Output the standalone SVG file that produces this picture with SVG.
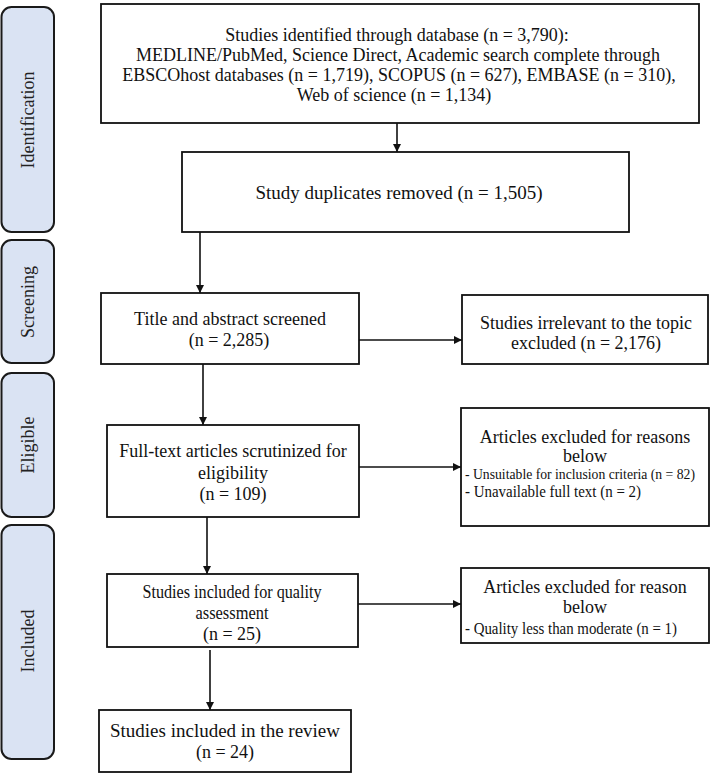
<svg xmlns="http://www.w3.org/2000/svg" width="711" height="773" viewBox="0 0 711 773">
<defs>
<style>
.bar{fill:#dae3f3;stroke:#1a1a1a;stroke-width:2}
.box{fill:#fff;stroke:#111;stroke-width:1.8}
.t{font-family:"Liberation Serif","Times New Roman",serif;font-size:18px;fill:#111;text-anchor:middle}
.s{font-family:"Liberation Serif","Times New Roman",serif;font-size:16px;fill:#111}
.lab{font-family:"Liberation Serif","Times New Roman",serif;font-size:18px;fill:#222;text-anchor:middle}
.c{fill:none;stroke:#111;stroke-width:1.6}
</style>
<marker id="ah" viewBox="0 0 10 10" refX="10" refY="5" markerWidth="8" markerHeight="8" markerUnits="userSpaceOnUse" orient="auto">
<path d="M0,0 L10,5 L0,10 Z" fill="#111"/>
</marker>
</defs>
<rect width="711" height="773" fill="#fff"/>

<g id="phase-identification">
<rect class="bar" x="1.5" y="7" width="52.5" height="225" rx="10"/>
<text class="lab" transform="translate(34,120) rotate(-90)">Identification</text>
</g>
<g id="phase-screening">
<rect class="bar" x="1.5" y="240" width="52.5" height="123" rx="10"/>
<text class="lab" transform="translate(34,302) rotate(-90)">Screening</text>
</g>
<g id="phase-eligible">
<rect class="bar" x="1.5" y="373" width="52.5" height="144" rx="10"/>
<text class="lab" transform="translate(34,445) rotate(-90)">Eligible</text>
</g>
<g id="phase-included">
<rect class="bar" x="1.5" y="525" width="52.5" height="234" rx="10"/>
<text class="lab" transform="translate(34,641) rotate(-90)">Included</text>
</g>

<g id="connectors">
<line class="c" x1="397" y1="123" x2="397" y2="152" marker-end="url(#ah)"/>
<line class="c" x1="200" y1="232" x2="200" y2="293" marker-end="url(#ah)"/>
<line class="c" x1="359" y1="340" x2="462" y2="340" marker-end="url(#ah)"/>
<line class="c" x1="203" y1="364" x2="203" y2="425" marker-end="url(#ah)"/>
<line class="c" x1="359" y1="467" x2="461" y2="467" marker-end="url(#ah)"/>
<line class="c" x1="207" y1="517" x2="207" y2="574" marker-end="url(#ah)"/>
<line class="c" x1="358" y1="604" x2="461" y2="604" marker-end="url(#ah)"/>
<line class="c" x1="210" y1="650" x2="210" y2="710" marker-end="url(#ah)"/>
</g>

<g id="identified">
<rect class="box" x="101" y="4" width="598" height="119"/>
<text class="t" x="397" y="41">Studies identified through database (n = 3,790):</text>
<text class="t" x="398" y="61">MEDLINE/PubMed, Science Direct, Academic search complete through</text>
<text class="t" x="399" y="81">EBSCOhost databases (n = 1,719), SCOPUS (n = 627), EMBASE (n = 310),</text>
<text class="t" x="394" y="101">Web of science (n = 1,134)</text>
</g>

<g id="duplicates">
<rect class="box" x="182" y="152" width="447" height="80"/>
<text class="t" x="399" y="199" style="font-size:19px">Study duplicates removed (n = 1,505)</text>
</g>

<g id="screened">
<rect class="box" x="101" y="293" width="258" height="71"/>
<text class="t" x="230" y="325">Title and abstract screened</text>
<text class="t" x="229" y="346">(n = 2,285)</text>
</g>

<g id="irrelevant">
<rect class="box" x="462" y="295" width="246" height="69"/>
<text class="t" x="586" y="329">Studies irrelevant to the topic</text>
<text class="t" x="586" y="349">excluded (n = 2,176)</text>
</g>

<g id="fulltext">
<rect class="box" x="107" y="425" width="252" height="92"/>
<text class="t" x="233" y="457">Full-text articles scrutinized for</text>
<text class="t" x="233" y="479">eligibility</text>
<text class="t" x="233" y="500">(n = 109)</text>
</g>

<g id="excluded-reasons">
<rect class="box" x="461" y="408" width="248" height="118"/>
<text class="t" x="585" y="443">Articles excluded for reasons</text>
<text class="t" x="585" y="462">below</text>
<text class="s" x="465" y="479" style="font-size:14px" textLength="230" lengthAdjust="spacingAndGlyphs">- Unsuitable for inclusion criteria (n = 82)</text>
<text class="s" x="465" y="497" textLength="176" lengthAdjust="spacingAndGlyphs">- Unavailable full text (n = 2)</text>
</g>

<g id="quality">
<rect class="box" x="107" y="574" width="251" height="73"/>
<text class="t" x="232" y="598" textLength="179" lengthAdjust="spacingAndGlyphs">Studies included for quality</text>
<text class="t" x="232" y="619" textLength="73" lengthAdjust="spacingAndGlyphs">assessment</text>
<text class="t" x="232" y="640">(n = 25)</text>
</g>

<g id="excluded-reason">
<rect class="box" x="461" y="568" width="248" height="75"/>
<text class="t" x="585" y="593">Articles excluded for reason</text>
<text class="t" x="585" y="613">below</text>
<text class="s" x="465" y="634" textLength="212" lengthAdjust="spacingAndGlyphs">- Quality less than moderate (n = 1)</text>
</g>

<g id="included">
<rect class="box" x="99" y="710" width="252" height="62"/>
<text class="t" x="225" y="737" style="font-size:19px">Studies included in the review</text>
<text class="t" x="225" y="758">(n = 24)</text>
</g>
</svg>
